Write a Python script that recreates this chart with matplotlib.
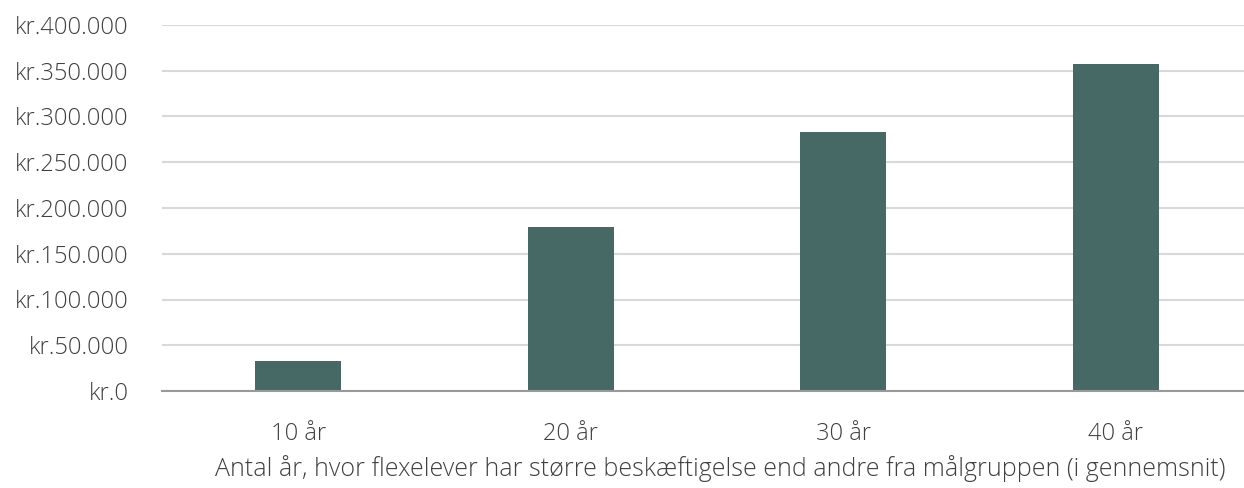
import numpy as np
import matplotlib.pyplot as plt
from matplotlib.ticker import FuncFormatter

# data
categories = ['10 år', '20 år', '30 år', '40 år']
values = [33000, 179500, 283000, 357000]
yticks = [0, 50000, 100000, 150000, 200000, 250000, 300000, 350000, 400000]

plt.rcParams['font.family'] = ['Open Sans', 'DejaVu Sans']
txtcol = '#404040'

fig = plt.figure(figsize=(12.44, 4.88), dpi=100)
ax = fig.add_axes([162/1244, 97/488, 1090/1244, 366/488])

x = np.arange(len(categories))
ax.bar(x, values, width=0.315, color='#466966', zorder=3)

ax.set_xlim(-0.5, len(categories) - 0.5)
ax.set_ylim(0, 400000)
ax.set_yticks(yticks)
ax.yaxis.set_major_formatter(FuncFormatter(lambda v, p: 'kr.' + f'{int(v):,}'.replace(',', '.')))
ax.set_xticks(x)
ax.set_xticklabels(categories)

ax.grid(axis='y', color='#d9d9d9', linewidth=1.5, zorder=0)
for s in ['top', 'right', 'left']:
    ax.spines[s].set_visible(False)
ax.spines['bottom'].set_color('#999999')
ax.spines['bottom'].set_linewidth(1.5)
ax.spines['bottom'].set_zorder(4)

ax.tick_params(axis='both', length=0, labelsize=17, labelcolor=txtcol)
ax.tick_params(axis='y', pad=24)
ax.tick_params(axis='x', pad=22)
for lab in ax.get_xticklabels() + ax.get_yticklabels():
    lab.set_fontweight('light')

ax.set_xlabel('Antal år, hvor flexelever har større beskæftigelse end andre fra målgruppen (i gennemsnit)',
              fontsize=18, color=txtcol, fontweight='light')
ax.xaxis.set_label_coords((720 - 162) / 1090, -(455 - 391) / 366)

fig.savefig('out.png', dpi=100)
